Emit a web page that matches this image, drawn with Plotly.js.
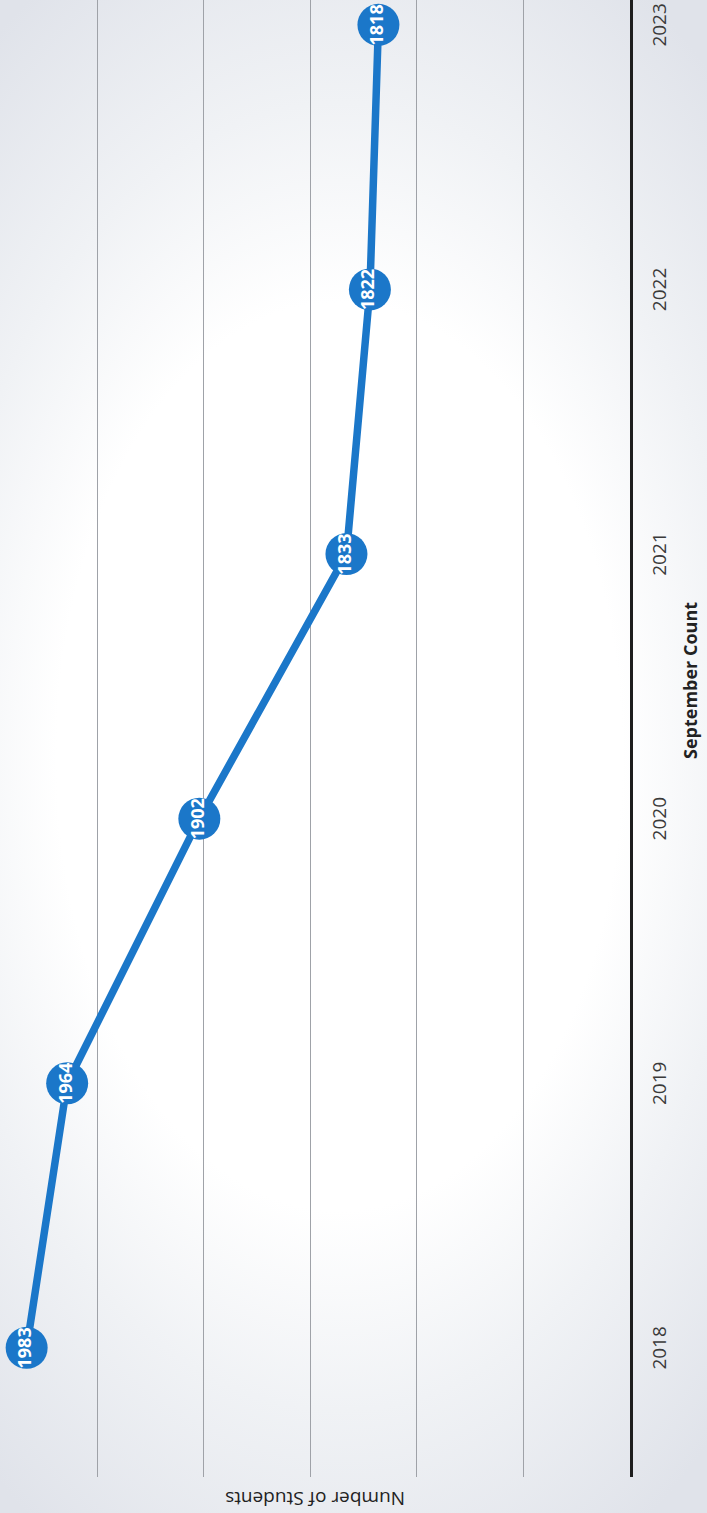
<!DOCTYPE html>
<html>
<head>
<meta charset="utf-8">
<script src="https://cdn.plot.ly/plotly-3.0.1.min.js"></script>
<style>
  html, body { margin:0; padding:0; width:707px; height:1513px; overflow:hidden; }
  body { background: radial-gradient(ellipse 80% 60% at 48% 50%, #ffffff 50%, #f0f2f5 72%, #e0e3ea 100%); }
  #plot { position:absolute; left:0; top:0; width:1513px; height:707px;
          transform-origin:0 0; transform: translateY(1513px) rotate(-90deg); }
</style>
</head>
<body>
<div id="plot"></div>
<script>
const years = [2018, 2019, 2020, 2021, 2022, 2023];
const yearLabels = ["2018", "2019", "2020", "2021", "2022", "2023"];
const students = [1983, 1964, 1902, 1833, 1822, 1818];
const gridTicks = [1750, 1800, 1850, 1900, 1950, 2000];

const blue = "#1b77c9";
const font = "Open Sans, Noto Sans, sans-serif";

const trace = {
  x: years,
  y: students,
  type: "scatter",
  mode: "lines+markers+text",
  text: students.map(String),
  textposition: "middle center",
  textfont: { family: font, size: 18, color: "#ffffff", weight: "bold" },
  line: { color: blue, width: 7.5 },
  marker: { color: blue, size: 42 },
  cliponaxis: false,
  hoverinfo: "skip"
};

const layout = {
  width: 1513,
  height: 707,
  margin: { l: 36, r: 0, t: 0, b: 77 },
  paper_bgcolor: "rgba(0,0,0,0)",
  plot_bgcolor: "rgba(0,0,0,0)",
  showlegend: false,
  xaxis: {
    type: "linear",
    range: [2017.512, 2023.094],
    tickvals: years,
    ticktext: yearLabels,
    showgrid: false,
    zeroline: false,
    showline: true,
    linecolor: "#1e1e1e",
    linewidth: 3,
    ticks: "",
    ticklabelstandoff: 10,
    tickfont: { family: font, size: 19, color: "#3a3a3a" }
  },
  yaxis: {
    range: [1700, 1995.5],
    tickvals: gridTicks,
    showticklabels: false,
    showgrid: true,
    gridcolor: "#9fa2a8",
    gridwidth: 1,
    zeroline: false,
    showline: false,
    ticks: ""
  },
  annotations: [
    {
      text: "September Count",
      xref: "paper", yref: "paper",
      x: 0.5396, y: 0,
      xanchor: "center", yanchor: "middle",
      yshift: -60,
      showarrow: false,
      font: { family: font, size: 18, color: "#222222", weight: "bold" }
    },
    {
      text: "Number of Students",
      xref: "paper", yref: "paper",
      x: 0, y: 0.5,
      xanchor: "center", yanchor: "middle",
      xshift: -22,
      textangle: -90,
      showarrow: false,
      font: { family: font, size: 19, color: "#222222" }
    }
  ]
};

Plotly.newPlot("plot", [trace], layout, { displayModeBar: false, staticPlot: true });
</script>
</body>
</html>
